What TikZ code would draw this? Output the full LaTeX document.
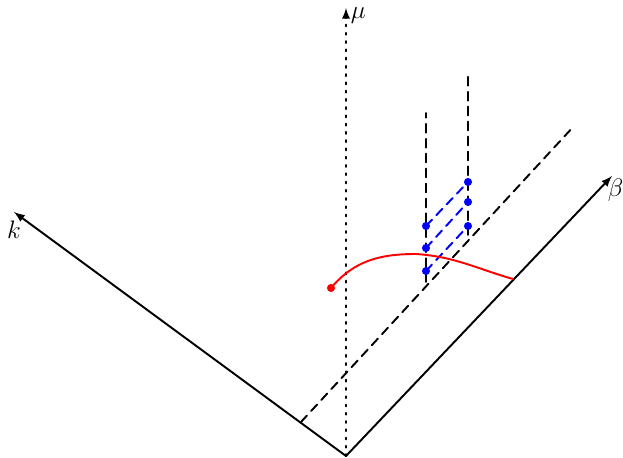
\documentclass[tikz,border=0pt]{standalone}
\usepackage{amsmath, amssymb}
\usepackage{tikz}
\usetikzlibrary{calc}
\usepackage{tkz-euclide}

\begin{document}
\begin{tikzpicture}[line width=1.1pt, longdash/.style={dash pattern=on 5pt off 3.5pt}]
      \useasboundingbox (-6.92,-0.04) rectangle (5.54,9.12);
      % 1. 原點與三條軸的端點
      \tkzDefPoint(0,0){O}
      \tkzDefPoint(0,8.96){M}
      \tkzDefPoint(5.32,5.6){B}
      \tkzDefPoint(-6.64,4.88){K}

      % 2. 與 beta 軸平行的虛線
      \tkzDefPoint(-0.9,0.68){P}
      \tkzDefPoint(4.56,6.6){Q}

      % 3. 兩條鉛直虛線
      \tkzDefPoint(1.6,3.48){L_1}
      \tkzDefPoint(1.6,6.86){L_2}
      \tkzDefPoint(2.44,4.42){R_1}
      \tkzDefPoint(2.44,7.64){R_2}

      % 4. 藍色的點
      \tkzDefPoint(1.6,3.7){A_1}
      \tkzDefPoint(1.6,4.16){A_2}
      \tkzDefPoint(1.6,4.6){A_3}
      \tkzDefPoint(2.44,4.6){C_1}
      \tkzDefPoint(2.44,5.08){C_2}
      \tkzDefPoint(2.44,5.48){C_3}

      % 5. 紅色曲線的端點
      \tkzDefPoint(-0.3,3.36){S}
      \tkzDefPoint(1.4,4.04){T}
      \tkzDefPoint(3.34,3.54){E}

      \tkzDrawSegments[black, line width=1.1pt, -latex](O,B O,K)
      \tkzDrawSegments[black, line width=1.1pt, dash pattern=on 1.1pt off 3.6pt, -latex](O,M)
      \tkzDrawSegments[black, line width=1.1pt, longdash](P,Q L_1,L_2 R_1,R_2)
      \tkzDrawSegments[blue, line width=1.1pt, longdash](A_1,C_1 A_2,C_2 A_3,C_3)
      \draw[red] (S) to[out=50, in=180] (T) to[out=-4, in=164] (E);

      \foreach \p in {A_1,A_2,A_3,C_1,C_2,C_3}
        \fill[blue] (\p) circle (2.3pt);
      \fill[red] (S) circle (2.3pt);

      \node[font=\Large, anchor=north west, inner sep=0pt] (mu) at ($(M)+(0.08,0.02)$) {$\mu$};
      \node[font=\Large, anchor=north west, inner sep=0pt] (beta) at ($(B)+(-0.1,-0.04)$) {$\beta$};
      \node[font=\Large, anchor=north, inner sep=0pt] (k) at ($(K)+(0,-0.16)$) {$k$};
    \end{tikzpicture}
\end{document}
